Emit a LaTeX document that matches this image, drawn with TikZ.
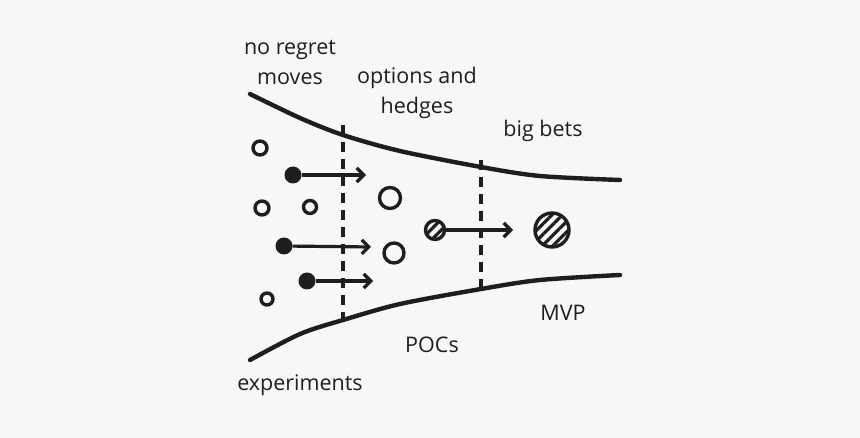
\documentclass[tikz,border=0pt]{standalone}
\usepackage{fontspec}
\setmainfont{Open Sans}
\usetikzlibrary{arrows.meta,positioning,patterns.meta}
\definecolor{paper}{RGB}{247,247,247}
\definecolor{ink}{RGB}{30,30,30}
\tikzset{
  lab/.style={font=\fontsize{21.5}{30}\selectfont,text=ink,align=center,inner sep=0pt},
  edge/.style={draw=ink,line width=4.4pt,line cap=round,line join=round},
  split/.style={draw=ink,line width=3.8pt,dash pattern=on 10pt off 7pt},
  idea/.style={circle,draw=ink,line width=3.4pt,inner sep=0pt,fill=paper},
  seed/.style={circle,fill=ink,inner sep=0pt,minimum size=17pt},
  bet/.style={circle,draw=ink,line width=3.4pt,inner sep=0pt,
    pattern={Lines[angle=45,distance=7.5pt,line width=3.2pt]},pattern color=ink},
  move/.style={-{Straight Barb[length=7pt,width=14pt,line width=3.2pt]},draw=ink,line width=3.2pt}
}
\begin{document}
\begin{tikzpicture}[x=1pt,y=-1pt]
  \useasboundingbox[fill=paper] (0,0) rectangle (860,438);

  % funnel
  \draw[edge] plot[smooth,tension=0.5] coordinates {(250,94) (300,118) (343,135) (400,151) (481,167) (540,176) (620,180)};
  \draw[edge] plot[smooth,tension=0.5] coordinates {(250,360) (300,334) (343,320) (400,304) (481,289) (540,280) (620,275)};
  \draw[split] (343,125) -- (343,328);
  \draw[split] (481,160) -- (481,296);

  % stage labels
  \node[lab] (noregret) at (290,63) {no regret\\moves};
  \node[lab] (options) at (417,93) {options and\\hedges};
  \node[lab] (bigbets) at (543,131) {big bets};
  \node[lab] (mvp) at (563,313) {MVP};
  \node[lab] (pocs) at (432,345) {POCs};
  \node[lab] (experiments) at (300,385) {experiments};

  % small ideas
  \node[idea,minimum size=14pt] (i1) at (260,148) {};
  \node[idea,minimum size=14pt] (i2) at (262,208) {};
  \node[idea,minimum size=13pt] (i3) at (310,207) {};
  \node[idea,minimum size=12pt] (i4) at (267,299) {};
  \node[idea,minimum size=21pt] (o1) at (390,198) {};
  \node[idea,minimum size=20pt] (o2) at (394,253) {};

  % moving ideas
  \node[seed] (s1) at (293,175) {};
  \node[seed] (s2) at (284,246) {};
  \node[seed] (s3) at (307,281) {};
  \coordinate (t1) at (366,175);
  \coordinate (t2) at (371,247);
  \coordinate (t3) at (373,281);
  \draw[move] (s1) -- (t1);
  \draw[move] (s2) -- (t2);
  \draw[move] (s3) -- (t3);

  % bets
  \node[bet,minimum size=19pt] (b1) at (435,230) {};
  \node[bet,minimum size=34pt] (b2) at (552,230) {};
  \coordinate (t4) at (513,230);
  \draw[move] (b1) -- (t4);
\end{tikzpicture}
\end{document}
